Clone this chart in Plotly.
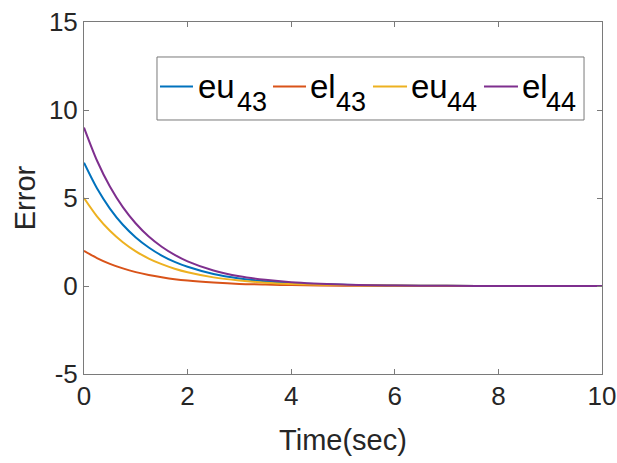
import plotly.graph_objects as go

time = [0, 0.25, 0.5, 0.75, 1.0, 1.25, 1.5, 1.75, 2.0, 2.5, 3.0, 3.5, 4.0, 5.0, 6.0, 7.0, 8.0, 10.0]
eu43 = [7.0, 5.55, 4.40, 3.48, 2.76, 2.19, 1.73, 1.37, 1.09, 0.68, 0.43, 0.27, 0.17, 0.07, 0.03, 0.01, 0.004, 0.0]
el43 = [2.0, 1.59, 1.26, 1.00, 0.79, 0.63, 0.50, 0.39, 0.31, 0.20, 0.12, 0.08, 0.05, 0.02, 0.01, 0.003, 0.001, 0.0]
eu44 = [5.0, 3.96, 3.14, 2.49, 1.97, 1.56, 1.24, 0.98, 0.78, 0.49, 0.31, 0.19, 0.12, 0.05, 0.02, 0.01, 0.003, 0.0]
el44 = [9.0, 7.13, 5.65, 4.48, 3.55, 2.81, 2.23, 1.77, 1.40, 0.88, 0.55, 0.35, 0.22, 0.09, 0.03, 0.01, 0.005, 0.0]

series_main = ["eu", "el", "eu", "el"]
series_sub = ["43", "43", "44", "44"]
colors = ["#0072BD", "#D95319", "#EDB120", "#7E2F8E"]
series = [eu43, el43, eu44, el44]

x_ticks = [0, 2, 4, 6, 8, 10]
x_labels = ["0", "2", "4", "6", "8", "10"]
y_ticks = [-5, 0, 5, 10, 15]
y_labels = ["-5", "0", "5", "10", "15"]

FONT = "Arial, 'Liberation Sans', sans-serif"

fig = go.Figure()
for m, sb, c, s in zip(series_main, series_sub, colors, series):
    fig.add_trace(go.Scatter(x=time, y=s, name=f"{m}<sub>{sb}</sub>", mode="lines",
                             showlegend=False,
                             line=dict(color=c, width=2, shape="spline", smoothing=0.8)))

# MATLAB-style legend box (paper coordinates of the plot area)
leg_box = dict(x0=0.1409, x1=0.9653, y0=0.7216, y1=0.9006)
line_x = [(0.1467, 0.2104), (0.3649, 0.4286), (0.5579, 0.6236), (0.7722, 0.8378)]
main_x = [0.2172, 0.4353, 0.6284, 0.8427]
sub_x = [0.2925, 0.4855, 0.6988, 0.8900]
line_y, main_y, sub_y = 0.8168, 0.8179, 0.7724

fig.add_shape(type="rect", xref="paper", yref="paper", **leg_box,
              line=dict(color="#7a7a7a", width=1), fillcolor="white", layer="above")
for (x0, x1), c, m, sb, mx, sx in zip(line_x, colors, series_main, series_sub, main_x, sub_x):
    fig.add_shape(type="line", xref="paper", yref="paper", x0=x0, x1=x1, y0=line_y, y1=line_y,
                  line=dict(color=c, width=2), layer="above")
    fig.add_annotation(xref="paper", yref="paper", x=mx, y=main_y, text=m, showarrow=False,
                       xanchor="left", yanchor="middle", borderpad=0,
                       font=dict(family=FONT, size=33, color="black"))
    fig.add_annotation(xref="paper", yref="paper", x=sx, y=sub_y, text=sb, showarrow=False,
                       xanchor="left", yanchor="middle", borderpad=0,
                       font=dict(family=FONT, size=27, color="black"))

axis_common = dict(
    showgrid=False, zeroline=False, showline=True, linecolor="#7a7a7a", linewidth=1,
    mirror="ticks", ticks="inside", ticklen=5, tickcolor="#7a7a7a", tickwidth=1,
    tickfont=dict(family=FONT, size=26, color="#262626"), automargin=False,
    ticklabeloverflow="allow",
)

fig.update_layout(
    width=617, height=463,
    margin=dict(l=84, r=15, t=22, b=89),
    paper_bgcolor="white", plot_bgcolor="white",
    font=dict(family=FONT, color="#262626"),
    xaxis=dict(range=[0, 10], tickvals=x_ticks, ticktext=x_labels, ticklabelstandoff=-1,
               title=dict(text="Time(sec)", font=dict(family=FONT, size=29, color="#262626"), standoff=19),
               **axis_common),
    yaxis=dict(range=[-5, 15], tickvals=y_ticks, ticktext=y_labels,
               title=dict(text="Error", font=dict(family=FONT, size=29, color="#262626"), standoff=4),
               **axis_common),
    showlegend=False,
)

fig.write_html("out.html", config={"displayModeBar": False},
               post_script="document.body.style.margin='0';document.body.style.overflow='hidden';")
